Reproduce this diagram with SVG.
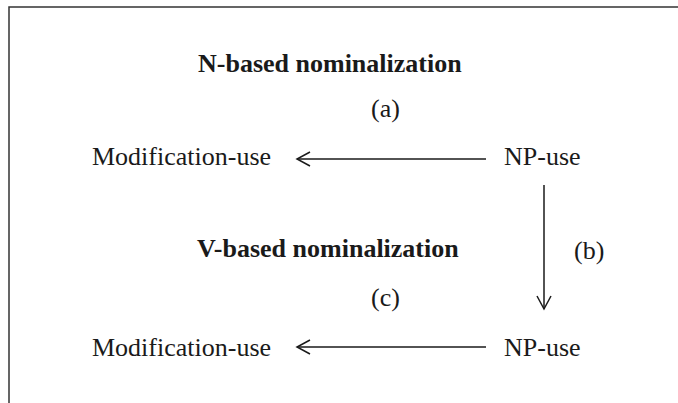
<svg xmlns="http://www.w3.org/2000/svg" width="678" height="403" viewBox="0 0 678 403">
<defs>
<style>
.t{font-family:"Liberation Serif","Times New Roman",serif;font-size:26px;fill:#1a1a1a}
.b{font-weight:bold}
.ln{stroke:#1a1a1a;stroke-width:1.5;fill:none}
.fr{stroke:#333;stroke-width:1.5;fill:none}
</style>
<marker id="ah" markerWidth="16" markerHeight="16" refX="14" refY="8" orient="auto" markerUnits="userSpaceOnUse">
<path d="M1,1 L14,8 L1,15" fill="none" stroke="#1a1a1a" stroke-width="1.5"/>
</marker>
</defs>
<rect width="678" height="403" fill="#fff"/>
<path class="fr" d="M9,403 V7 H678"/>
<g id="heading-n"><text class="t b" x="198" y="72">N-based nominalization</text></g>
<g id="label-a"><text class="t" x="371" y="117">(a)</text></g>
<g id="mod1"><text class="t" x="92" y="165">Modification-use</text></g>
<g id="np1"><text class="t" x="504" y="165">NP-use</text></g>
<g id="heading-v"><text class="t b" x="197" y="257">V-based nominalization</text></g>
<g id="label-b"><text class="t" x="574" y="259">(b)</text></g>
<g id="label-c"><text class="t" x="371" y="306">(c)</text></g>
<g id="mod2"><text class="t" x="92" y="356">Modification-use</text></g>
<g id="np2"><text class="t" x="504" y="356">NP-use</text></g>
<g id="connectors">
<line class="ln" x1="486" y1="159" x2="297" y2="159" marker-end="url(#ah)"/>
<line class="ln" x1="486" y1="347" x2="297" y2="347" marker-end="url(#ah)"/>
<line class="ln" x1="544" y1="185" x2="544" y2="309" marker-end="url(#ah)"/>
</g>
</svg>
